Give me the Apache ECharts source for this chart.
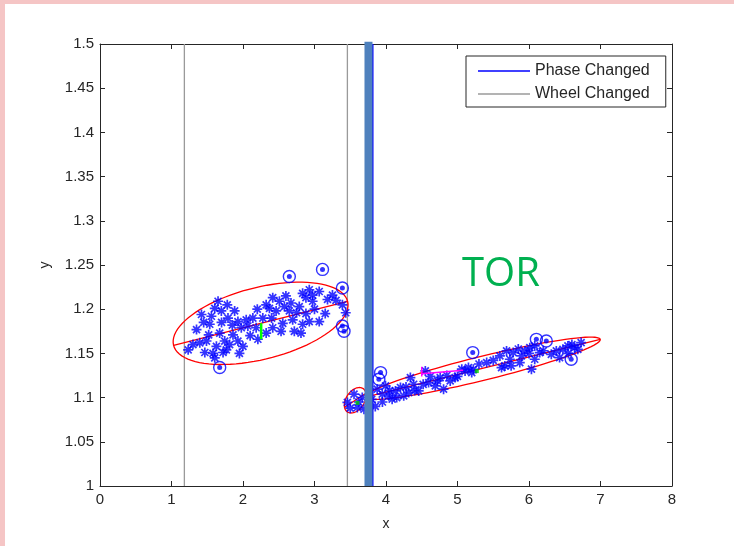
<!DOCTYPE html>
<html>
<head>
<meta charset="utf-8">
<script src="https://cdn.jsdelivr.net/npm/echarts@6/dist/echarts.min.js"></script>
<style>
  html, body { margin: 0; padding: 0; background: #fff; }
  #chart { width: 734px; height: 546px; }
</style>
</head>
<body>
<div id="chart"></div>
<script>
// cluster 1 (left) - asterisk points
var starsA = [
  [1.233,1.154],[1.396,1.162],[1.350,1.177],[1.466,1.151],[1.605,1.145],[1.651,1.209],
  [1.697,1.198],[1.419,1.194],[1.558,1.192],[1.535,1.183],[1.674,1.173],[1.744,1.164],
  [1.813,1.160],[1.860,1.171],[1.929,1.164],[1.976,1.179],[1.883,1.198],[2.045,1.188],
  [2.138,1.190],[2.184,1.179],[2.208,1.166],[2.324,1.173],[2.324,1.205],[2.416,1.213],
  [2.509,1.209],[2.579,1.203],[2.463,1.198],[2.556,1.184],[2.695,1.188],[2.718,1.175],
  [2.811,1.173],[2.787,1.203],[2.834,1.218],[2.927,1.222],[2.973,1.216],[3.066,1.220],
  [2.880,1.213],[3.182,1.211],[3.251,1.216],[3.390,1.205],[3.437,1.196],[2.927,1.186],
  [3.066,1.186],[2.834,1.183],[2.416,1.179],[2.532,1.175],[1.999,1.158],[1.767,1.154],
  [1.628,1.158],[1.489,1.164],[1.790,1.190],[1.929,1.186],[2.068,1.181],[2.277,1.190],
  [2.648,1.198],[1.721,1.151],[1.605,1.201],[2.973,1.209],[2.671,1.207],[2.370,1.201],
  [1.300,1.160],[1.450,1.185],[1.520,1.171],[1.580,1.150],[1.700,1.185],[1.780,1.205],
  [1.850,1.182],[2.100,1.170],[2.400,1.190],[2.600,1.215],[2.750,1.196],[3.000,1.200],
  [3.150,1.195],[3.300,1.210],[2.880,1.195],[2.200,1.200],[1.950,1.150]
];
// cluster 2 (right) - asterisk points
var starsB = [
  [3.460,1.0945],[3.553,1.1039],[3.599,1.0888],[3.668,1.1001],[3.692,1.0869],
  [3.877,1.1095],[3.993,1.1133],[4.040,1.1020],[4.132,1.1076],[4.202,1.1114],
  [4.248,1.1020],[4.341,1.1227],[4.387,1.1151],[4.457,1.1076],[4.550,1.1302],
  [4.596,1.1170],[4.689,1.1133],[4.758,1.1227],[4.805,1.1095],[4.898,1.1189],
  [4.967,1.1227],[5.060,1.1321],[5.153,1.1340],[5.199,1.1283],[4.086,1.0982],
  [3.947,1.1039],[4.318,1.1057],[5.106,1.130],[5.222,1.132],[5.408,1.1396],
  [5.593,1.1471],[5.663,1.1358],[5.732,1.1434],[5.779,1.1509],[5.895,1.1471],
  [5.941,1.1528],[6.011,1.1565],[6.080,1.1434],[6.080,1.1584],[6.034,1.1321],
  [6.150,1.1509],[6.312,1.1490],[6.382,1.1528],[6.474,1.1546],[6.544,1.1584],
  [6.637,1.1565],[6.729,1.1622],[5.616,1.134],[5.871,1.1396],[5.686,1.1528],
  [6.428,1.1453],[6.683,1.1546],
  [3.800,1.098],[3.850,1.090],[3.950,1.095],[4.050,1.108],[4.150,1.100],[4.280,1.112],
  [4.400,1.108],[4.520,1.115],[4.620,1.124],[4.720,1.119],[4.850,1.125],[5.000,1.124],
  [5.300,1.138],[5.500,1.142],[5.750,1.136],[5.850,1.155],[6.000,1.150],[6.200,1.153],
  [6.550,1.150],[6.600,1.160],[3.500,1.088],[3.620,1.095]
];
// circled outliers
var outliers = [
  [1.674,1.134],[2.648,1.237],[3.112,1.245],[3.390,1.224],[3.390,1.181],[3.413,1.175],
  [3.924,1.1283],[3.900,1.1208],[5.213,1.1509],[6.103,1.1659],[6.242,1.1640],[6.590,1.1434]
];
// ellipses: [centerX, centerY, majorDx, majorDy, minorDx, minorDy]
var ellipses = [
  [2.246,1.184,1.217,0.0248,0.122,-0.0394],
  [5.355,1.1332,1.641,0.0327,0.040,-0.01315],
  [3.570,1.0970,0.150,0.0080,0.030,-0.0120]
];
var wheelX = [1.18, 3.46];
var phaseX = 3.815;
var phaseBarX = 3.755;
var magentaLines = [
  [[4.50,1.135],[4.50,1.124]],
  [[4.50,1.127],[5.08,1.131]]
];
var greenLine = [[2.254,1.166],[2.254,1.184]];
var greenPts = [[5.27,1.130],[3.60,1.094]];
var xTicks = [0, 8, 1];
var yTicks = [1, 1.5, 0.05];

var chart = echarts.init(document.getElementById('chart'));
var axisColor = '#262626';
var star = 'path://M5,0L5,10M0,5L10,5M1.5,1.5L8.5,8.5M1.5,8.5L8.5,1.5';

function vline(x, y0, y1) { return [[x, y0], [x, y1]]; }

var series = [];
wheelX.forEach(function (x, i) {
  series.push({
    name: 'Wheel Changed', type: 'line', data: vline(x, yTicks[0], yTicks[1]),
    symbol: 'none', lineStyle: { color: '#9a9a9a', width: 1.3 }, z: 1, silent: true
  });
});
series.push({
  type: 'custom', data: ellipses, z: 3, silent: true,
  encode: { x: 0, y: 1 },
  renderItem: function (params, api) {
    var cx = api.value(0), cy = api.value(1);
    var ax = api.value(2), ay = api.value(3), bx = api.value(4), by = api.value(5);
    var pts = [];
    for (var k = 0; k < 90; k++) {
      var t = k / 90 * Math.PI * 2;
      pts.push(api.coord([cx + Math.cos(t) * ax + Math.sin(t) * bx, cy + Math.cos(t) * ay + Math.sin(t) * by]));
    }
    var p1 = api.coord([cx - ax, cy - ay]), p2 = api.coord([cx + ax, cy + ay]);
    return {
      type: 'group',
      children: [
        { type: 'polygon', shape: { points: pts }, style: { fill: 'none', stroke: '#ff0000', lineWidth: 1.3 } },
        { type: 'line', shape: { x1: p1[0], y1: p1[1], x2: p2[0], y2: p2[1] }, style: { stroke: '#ff0000', lineWidth: 1.3 } }
      ]
    };
  }
});
[starsA, starsB].forEach(function (d) {
  series.push({
    type: 'scatter', data: d, symbol: star, symbolSize: 10, z: 4, silent: true,
    itemStyle: { color: '#0000ff', borderColor: '#0000ff', borderWidth: 1.7 }
  });
});
series.push({
  type: 'scatter', data: outliers, symbol: 'circle', symbolSize: 12, z: 5, silent: true,
  itemStyle: { color: 'rgba(255,255,255,0)', borderColor: '#0000ff', borderWidth: 1.4 }
});
series.push({
  type: 'scatter', data: outliers, symbol: 'circle', symbolSize: 5, z: 5, silent: true,
  itemStyle: { color: '#0000ff' }
});
magentaLines.forEach(function (d) {
  series.push({
    type: 'line', data: d, symbol: 'none', z: 6, silent: true,
    lineStyle: { color: '#ff00ff', width: 1.5 }
  });
});
series.push({
  type: 'line', data: greenLine, symbol: 'none', z: 6, silent: true,
  lineStyle: { color: '#00ff00', width: 2.5 }
});
series.push({
  type: 'scatter', data: greenPts, symbol: 'rect', symbolSize: 4, z: 6, silent: true,
  itemStyle: { color: '#00cc00' }
});
series.push({
  name: 'Phase Changed', type: 'line', data: vline(phaseX, yTicks[0], yTicks[1]),
  symbol: 'none', lineStyle: { color: '#0000ff', width: 1.5 }, z: 7, silent: true
});
series.push({
  type: 'line', data: vline(phaseBarX, yTicks[0], 1.5026), clip: false,
  symbol: 'none', lineStyle: { color: '#4f81bd', width: 8, cap: 'butt' }, z: 8, silent: true
});

function axisBase(pos, showLabel) {
  return {
    type: 'value', position: pos,
    axisLine: { show: true, onZero: false, lineStyle: { color: axisColor, width: 1 } },
    axisTick: { show: true, inside: true, length: 5, lineStyle: { color: axisColor } },
    axisLabel: { show: showLabel, color: axisColor, fontFamily: 'Liberation Sans', fontSize: 15, margin: 6 },
    splitLine: { show: false }
  };
}
var xb = axisBase('bottom', true), xt = axisBase('top', false);
var yl = axisBase('left', true), yr = axisBase('right', false);
[xb, xt].forEach(function (a) { a.min = xTicks[0]; a.max = xTicks[1]; a.interval = xTicks[2]; });
[yl, yr].forEach(function (a) { a.min = yTicks[0]; a.max = yTicks[1]; a.interval = yTicks[2]; });
xb.name = 'x'; xb.nameLocation = 'middle'; xb.nameGap = 31;
xb.nameTextStyle = { color: axisColor, fontFamily: 'Liberation Sans', fontSize: 14 };
yl.name = 'y'; yl.nameLocation = 'middle'; yl.nameGap = 48;
yl.nameTextStyle = { color: axisColor, fontFamily: 'Liberation Sans', fontSize: 14 };

chart.setOption({
  animation: false,
  grid: { left: 100, right: 62, top: 44, bottom: 60 },
  xAxis: [xb, xt],
  yAxis: [yl, yr],
  legend: {
    orient: 'vertical', left: 466, top: 56,
    padding: [7, 16, 5, 12], itemGap: 7,
    borderColor: '#262626', borderWidth: 1, backgroundColor: '#fff',
    icon: 'rect', itemWidth: 52, itemHeight: 1.5,
    textStyle: { color: '#262626', fontFamily: 'Liberation Sans', fontSize: 16 },
    selectedMode: false,
    data: [
      { name: 'Phase Changed', itemStyle: { color: '#0000ff' } },
      { name: 'Wheel Changed', itemStyle: { color: '#9a9a9a' } }
    ]
  },
  graphic: [
    { type: 'rect', left: 0, top: 0, shape: { width: 5, height: 546 }, style: { fill: '#f5c5c5' }, silent: true },
    { type: 'rect', left: 0, top: 0, shape: { width: 734, height: 4 }, style: { fill: '#f5c5c5' }, silent: true },
    { type: 'text', left: 462, top: 255, style: { text: 'TOR', fill: '#00b050', font: '40px "Open Sans"' }, silent: true }
  ],
  series: series
});
</script>
</body>
</html>
